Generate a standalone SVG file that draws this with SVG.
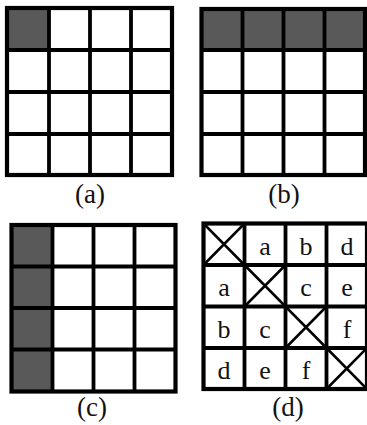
<svg xmlns="http://www.w3.org/2000/svg" width="367" height="425" viewBox="0 0 367 425">
<style>
.bg{fill:#ffffff}
.sh{fill:#595959;stroke:none}
.gl{stroke:#000;stroke-width:3.8;fill:none}
.ol{stroke:#000;stroke-width:4.2;fill:none}
.x{stroke:#000;stroke-width:2.5;fill:none}
.lbl{font-family:"Liberation Serif","Times New Roman",serif;font-size:27px;fill:#111;text-anchor:middle}
.cl{font-family:"Liberation Serif","Times New Roman",serif;font-size:26px;fill:#111;text-anchor:middle}
</style>
<rect class="bg" x="0" y="0" width="367" height="425"/>

<g id="grid-a">
  <rect class="sh" x="7" y="8" width="42" height="42"/>
  <path class="gl" d="M49,8V175 M90,8V175 M131,8V175 M7,50H172 M7,92H172 M7,134H172"/>
  <rect class="ol" x="7" y="8" width="165" height="167"/>
  <text class="lbl" x="90" y="203">(a)</text>
</g>

<g id="grid-b">
  <rect class="sh" x="201.5" y="9" width="164" height="41"/>
  <path class="gl" d="M242.5,9V175 M283.5,9V175 M324.5,9V175 M201.5,50H365.5 M201.5,92H365.5 M201.5,134H365.5"/>
  <rect class="ol" x="201.5" y="9" width="163.5" height="166"/>
  <text class="lbl" x="284" y="203">(b)</text>
</g>

<g id="grid-c">
  <rect class="sh" x="11.5" y="225" width="41" height="166.5"/>
  <path class="gl" d="M52.5,225V391.5 M93.5,225V391.5 M134.5,225V391.5 M11.5,266.5H175.5 M11.5,308H175.5 M11.5,349.5H175.5"/>
  <rect class="ol" x="11.5" y="225" width="164" height="166.5"/>
  <text class="lbl" x="92" y="416">(c)</text>
</g>

<g id="grid-d">
  <path class="x" d="M203.5,223.5L244.5,265 M244.5,223.5L203.5,265 M244.5,265L285.5,306.5 M285.5,265L244.5,306.5 M285.5,306.5L326.5,348 M326.5,306.5L285.5,348 M326.5,348L367,389 M367,348L326.5,389"/>
  <path class="gl" d="M244.5,223.5V389 M285.5,223.5V389 M326.5,223.5V389 M203.5,265H367 M203.5,306.5H367 M203.5,348H367"/>
  <rect class="ol" x="203.5" y="223.5" width="163.5" height="165.5"/>
  <text class="cl" x="265" y="255">a</text>
  <text class="cl" x="306" y="255">b</text>
  <text class="cl" x="347" y="255">d</text>
  <text class="cl" x="224" y="296">a</text>
  <text class="cl" x="306" y="296">c</text>
  <text class="cl" x="347" y="296">e</text>
  <text class="cl" x="224" y="338">b</text>
  <text class="cl" x="265" y="338">c</text>
  <text class="cl" x="347" y="338">f</text>
  <text class="cl" x="224" y="379">d</text>
  <text class="cl" x="265" y="379">e</text>
  <text class="cl" x="306" y="379">f</text>
  <text class="lbl" x="288" y="416">(d)</text>
</g>
</svg>
